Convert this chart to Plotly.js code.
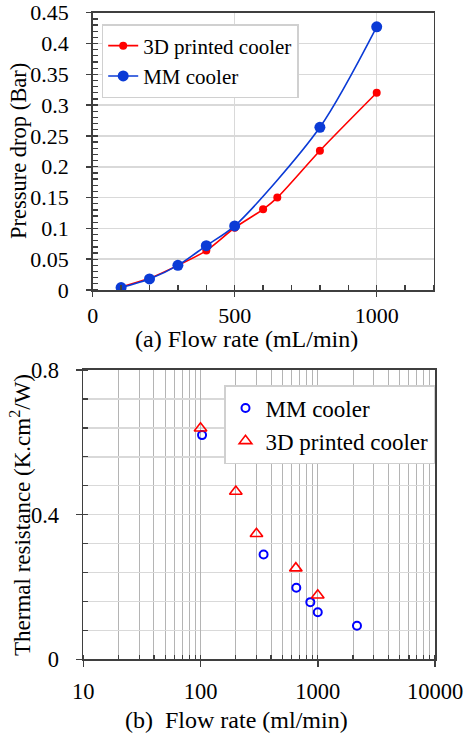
<!DOCTYPE html>
<html>
<head>
<meta charset="utf-8">
<script src="https://cdn.plot.ly/plotly-3.0.1.min.js"></script>
<style>html,body{margin:0;padding:0;background:#fff;}#chart{width:466px;height:736px;}</style>
</head>
<body>
<div id="chart"></div>
<script>
// ---- Data: (a) pressure drop vs flow rate ----
const flowA_3D = [100, 200, 300, 400, 500, 600, 650, 800, 1000];
const dropA_3D = [0.005, 0.019, 0.040, 0.064, 0.101, 0.131, 0.150, 0.226, 0.320];
const flowA_MM = [100, 200, 300, 400, 500, 800, 1000];
const dropA_MM = [0.004, 0.018, 0.040, 0.072, 0.104, 0.264, 0.427];

// ---- Data: (b) thermal resistance vs flow rate ----
const flowB_MM = [103, 345, 656, 864, 1000, 2160];
const rthB_MM = [0.620, 0.290, 0.198, 0.158, 0.130, 0.093];
const flowB_3D = [100, 200, 300, 650, 1000];
const rthB_3D = [0.639, 0.464, 0.347, 0.252, 0.177];

const nameMM = "MM cooler";
const name3D = "3D printed cooler";
const xTicksA = [0, 500, 1000];
const yTicksA = [0, 0.05, 0.1, 0.15, 0.2, 0.25, 0.3, 0.35, 0.4, 0.45];
const xTicksB = [10, 100, 1000, 10000];
const yTicksB = [0, 0.4, 0.8];

const W = 466, H = 736;
const px = x => x / W;
const py = y => 1 - y / H;
const FAM = "Liberation Serif";
const AX = "#3f3f3f";
const f = (size) => ({family: FAM, size: size, color: "#000"});

const traces = [
  {x: flowA_3D, y: dropA_3D, name: name3D, type: "scatter", mode: "lines+markers",
   line: {color: "#ff0000", width: 1.6, shape: "spline", smoothing: 0.8},
   marker: {color: "#ff0000", size: 8}, xaxis: "x", yaxis: "y", legend: "legend"},
  {x: flowA_MM, y: dropA_MM, name: nameMM, type: "scatter", mode: "lines+markers",
   line: {color: "#0b3bd6", width: 1.6, shape: "spline", smoothing: 0.8},
   marker: {color: "#0b3bd6", size: 11}, xaxis: "x", yaxis: "y", legend: "legend"},
  {x: flowB_MM, y: rthB_MM, name: nameMM, type: "scatter", mode: "markers",
   marker: {symbol: "circle-open", color: "#0000ff", size: 8, line: {width: 2, color: "#0000ff"}},
   xaxis: "x2", yaxis: "y2", legend: "legend2"},
  {x: flowB_3D, y: rthB_3D, name: name3D, type: "scatter", mode: "markers",
   marker: {symbol: "triangle-up-open", color: "#ff0000", size: 11, line: {width: 1.6, color: "#ff0000"}},
   xaxis: "x2", yaxis: "y2", legend: "legend2"}
];

const layout = {
  width: W, height: H,
  margin: {l: 0, r: 0, t: 0, b: 0},
  paper_bgcolor: "#fff", plot_bgcolor: "#fff",
  font: f(22),
  showlegend: true,
  xaxis: {
    domain: [px(92.7), px(433.5)], anchor: "y",
    range: [0, 1200], tickvals: xTicksA, ticktext: xTicksA.map(String),
    showline: true, linecolor: AX, linewidth: 1.5, mirror: true,
    showgrid: true, gridcolor: "#d9d9d9", gridwidth: 1.5, zeroline: false,
    ticks: "outside", ticklen: 5, tickcolor: AX, tickwidth: 1.5,
    ticklabelstandoff: 0,
    minor: {dtick: 100, tick0: 0, ticks: "inside", ticklen: 5, tickcolor: AX, tickwidth: 1.3, showgrid: false},
    tickfont: f(22), fixedrange: true
  },
  yaxis: {
    domain: [py(290), py(12.7)], anchor: "x",
    range: [0, 0.45], tickvals: yTicksA,
    showline: true, linecolor: AX, linewidth: 1.5, mirror: true,
    showgrid: true, gridcolor: "#d9d9d9", gridwidth: 1.5, zeroline: false,
    ticks: "outside", ticklen: 5, tickcolor: AX, tickwidth: 1.5,
    ticklabelstandoff: 13,
    minor: {dtick: 0.01, tick0: 0, ticks: "inside", ticklen: 5, tickcolor: AX, tickwidth: 1.3, showgrid: false},
    tickfont: f(22), fixedrange: true
  },
  xaxis2: {
    domain: [px(83.3), px(435)], anchor: "y2",
    type: "log", range: [1, 4], tickvals: xTicksB, ticktext: xTicksB.map(String),
    showline: true, linecolor: AX, linewidth: 1.8, mirror: true,
    showgrid: true, gridcolor: "#b4b4b4", gridwidth: 1.2, zeroline: false,
    ticks: "outside", ticklen: 6, tickcolor: AX, tickwidth: 1.5,
    ticklabelstandoff: 5,
    minor: {dtick: "D1", ticks: "inside", ticklen: 4, tickcolor: AX, tickwidth: 1.3,
            showgrid: true, gridcolor: "#b4b4b4", gridwidth: 1},
    tickfont: f(22.5), fixedrange: true
  },
  yaxis2: {
    domain: [py(659.3), py(370)], anchor: "x2",
    range: [0, 0.8], tickvals: yTicksB, ticktext: ["0", "0.4", "0.8"],
    showline: true, linecolor: AX, linewidth: 1.8, mirror: true,
    showgrid: true, gridcolor: "#d9d9d9", gridwidth: 1.5, zeroline: false,
    ticks: "outside", ticklen: 6, tickcolor: AX, tickwidth: 1.5,
    ticklabelstandoff: 12,
    minor: {dtick: 0.08, tick0: 0, ticks: "inside", ticklen: 5, tickcolor: AX, tickwidth: 1.3,
            showgrid: true, gridcolor: "#d9d9d9", gridwidth: 1.5},
    tickfont: f(22.5), fixedrange: true
  },
  legend: {
    x: px(101.7), y: py(24), xanchor: "left", yanchor: "top",
    bgcolor: "#fff", bordercolor: "#d0d0d0", borderwidth: 1.5,
    font: f(21), itemwidth: 30, tracegroupgap: 0
  },
  legend2: {
    x: px(224), y: py(385), xanchor: "left", yanchor: "top",
    bgcolor: "#fff", bordercolor: "#d0d0d0", borderwidth: 1.5,
    font: f(23), itemwidth: 30, tracegroupgap: 0
  },
  annotations: [
    {text: "(a) Flow rate (mL/min)", xref: "paper", yref: "paper", x: px(246), y: py(339),
     xanchor: "center", yanchor: "middle", showarrow: false, font: f(24)},
    {text: "Pressure drop (Bar)", xref: "paper", yref: "paper", x: px(18), y: py(151),
     xanchor: "center", yanchor: "middle", textangle: -90, showarrow: false, font: f(22.5)},
    {text: "(b)\u00a0 Flow rate (ml/min)", xref: "paper", yref: "paper", x: px(237), y: py(720),
     xanchor: "center", yanchor: "middle", showarrow: false, font: f(24)},
    {text: "Thermal resistance (K.cm<sup>2</sup>/W)", xref: "paper", yref: "paper", x: px(20), y: py(515),
     xanchor: "center", yanchor: "middle", textangle: -90, showarrow: false, font: f(23)}
  ]
};

Plotly.newPlot("chart", traces, layout, {displayModeBar: false, staticPlot: true});
</script>
</body>
</html>
